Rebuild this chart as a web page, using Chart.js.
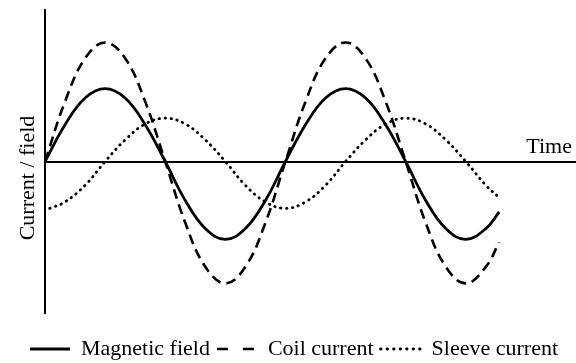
<!DOCTYPE html>
<html>
<head>
<meta charset="utf-8">
<script src="https://cdn.jsdelivr.net/npm/chart.js@4"></script>
<style>
  html, body { margin: 0; padding: 0; background: #fff; }
  #wrap { width: 576px; height: 363px; }
</style>
</head>
<body>
<div id="wrap"><canvas id="chart"></canvas></div>
<script>
// phase in degrees along the time axis
const phase = [0, 30, 60, 90, 120, 150, 180, 210, 240, 270, 300, 330, 360,
  390, 420, 450, 480, 510, 540, 570, 600, 630, 660, 680]
const sleevePhase = [7, 30, 60, 90, 120, 150, 180, 210, 240, 270, 300, 330, 360,
  390, 420, 450, 480, 510, 540, 570, 600, 630, 660, 680]

const magneticField = [0, 0.51, 0.88, 1.01, 0.88, 0.51, 0, -0.54, -0.93, -1.08, -0.93, -0.54, 0,
  0.51, 0.88, 1.01, 0.88, 0.51, 0, -0.54, -0.93, -1.08, -0.93, -0.7]
const coilCurrent = [0, 0.83, 1.43, 1.65, 1.43, 0.83, 0, -0.85, -1.46, -1.69, -1.46, -0.85, 0,
  0.83, 1.43, 1.65, 1.43, 0.83, 0, -0.85, -1.46, -1.69, -1.46, -1.12]
const sleeveCurrent = [-0.65, -0.56, -0.33, 0, 0.3, 0.52, 0.6, 0.52, 0.3, 0, -0.33, -0.56, -0.65,
  -0.56, -0.33, 0, 0.3, 0.52, 0.6, 0.52, 0.3, 0, -0.33, -0.5]

const seriesNames = ['Magnetic field', 'Coil current', 'Sleeve current']
const xTitle = 'Time'
const yTitle = 'Current / field'

const serif = '"Liberation Serif", "Times New Roman", serif'

const toPoints = (xs, ys) => xs.map((x, i) => ({ x, y: ys[i] }))

// axis captions sit outside the usual title slots, so paint them by hand
const captions = {
  id: 'captions',
  afterDraw(chart) {
    const { ctx } = chart
    ctx.save()
    ctx.fillStyle = '#000'
    ctx.font = '22px ' + serif
    ctx.textAlign = 'right'
    ctx.textBaseline = 'alphabetic'
    ctx.fillText(xTitle, 572, 153)
    ctx.translate(34, 178)
    ctx.rotate(-Math.PI / 2)
    ctx.textAlign = 'center'
    ctx.fillText(yTitle, 0, 0)
    ctx.restore()
  }
}

const legendDash = [[], [11, 15], [0.5, 6]]

new Chart(document.getElementById('chart'), {
  type: 'line',
  data: {
    datasets: [
      {
        label: seriesNames[0],
        data: toPoints(phase, magneticField),
        borderColor: '#000',
        borderWidth: 2.8
      },
      {
        label: seriesNames[1],
        data: toPoints(phase, coilCurrent),
        borderColor: '#000',
        borderWidth: 2.6,
        borderDash: [10, 6]
      },
      {
        label: seriesNames[2],
        data: toPoints(sleevePhase, sleeveCurrent),
        borderColor: '#000',
        borderWidth: 2.8,
        borderDash: [0.5, 5.5],
        borderCapStyle: 'round'
      }
    ]
  },
  options: {
    animation: false,
    responsive: true,
    maintainAspectRatio: false,
    layout: {
      padding: { left: 12, top: 10, right: 0, bottom: -7 }
    },
    elements: {
      point: { radius: 0 },
      line: { tension: 0.4, fill: false }
    },
    scales: {
      x: {
        type: 'linear',
        min: 0,
        max: 795,
        grid: { display: false },
        border: { display: false },
        ticks: { display: false },
        afterFit(scale) {
          scale.height = 18
        }
      },
      y: {
        min: -2.1,
        max: 2.1,
        ticks: { display: false, stepSize: 1 },
        grid: {
          drawTicks: false,
          lineWidth: 2,
          color: ctx => (ctx.tick && ctx.tick.value === 0 ? '#000' : 'rgba(0,0,0,0)')
        },
        border: { display: true, color: '#000', width: 2 },
        afterFit(scale) {
          scale.width = 33
        }
      }
    },
    plugins: {
      legend: {
        position: 'bottom',
        labels: {
          color: '#000',
          font: { family: serif, size: 22 },
          usePointStyle: true,
          pointStyleWidth: 40,
          padding: 7,
          generateLabels: chart =>
            chart.data.datasets.map((ds, i) => ({
              text: ds.label,
              datasetIndex: i,
              fontColor: '#000',
              strokeStyle: '#000',
              fillStyle: '#000',
              lineWidth: ds.borderWidth,
              lineDash: legendDash[i],
              lineCap: ds.borderCapStyle || 'butt',
              pointStyle: 'line'
            }))
        }
      },
      tooltip: { enabled: false }
    }
  },
  plugins: [captions]
})
</script>
</body>
</html>
